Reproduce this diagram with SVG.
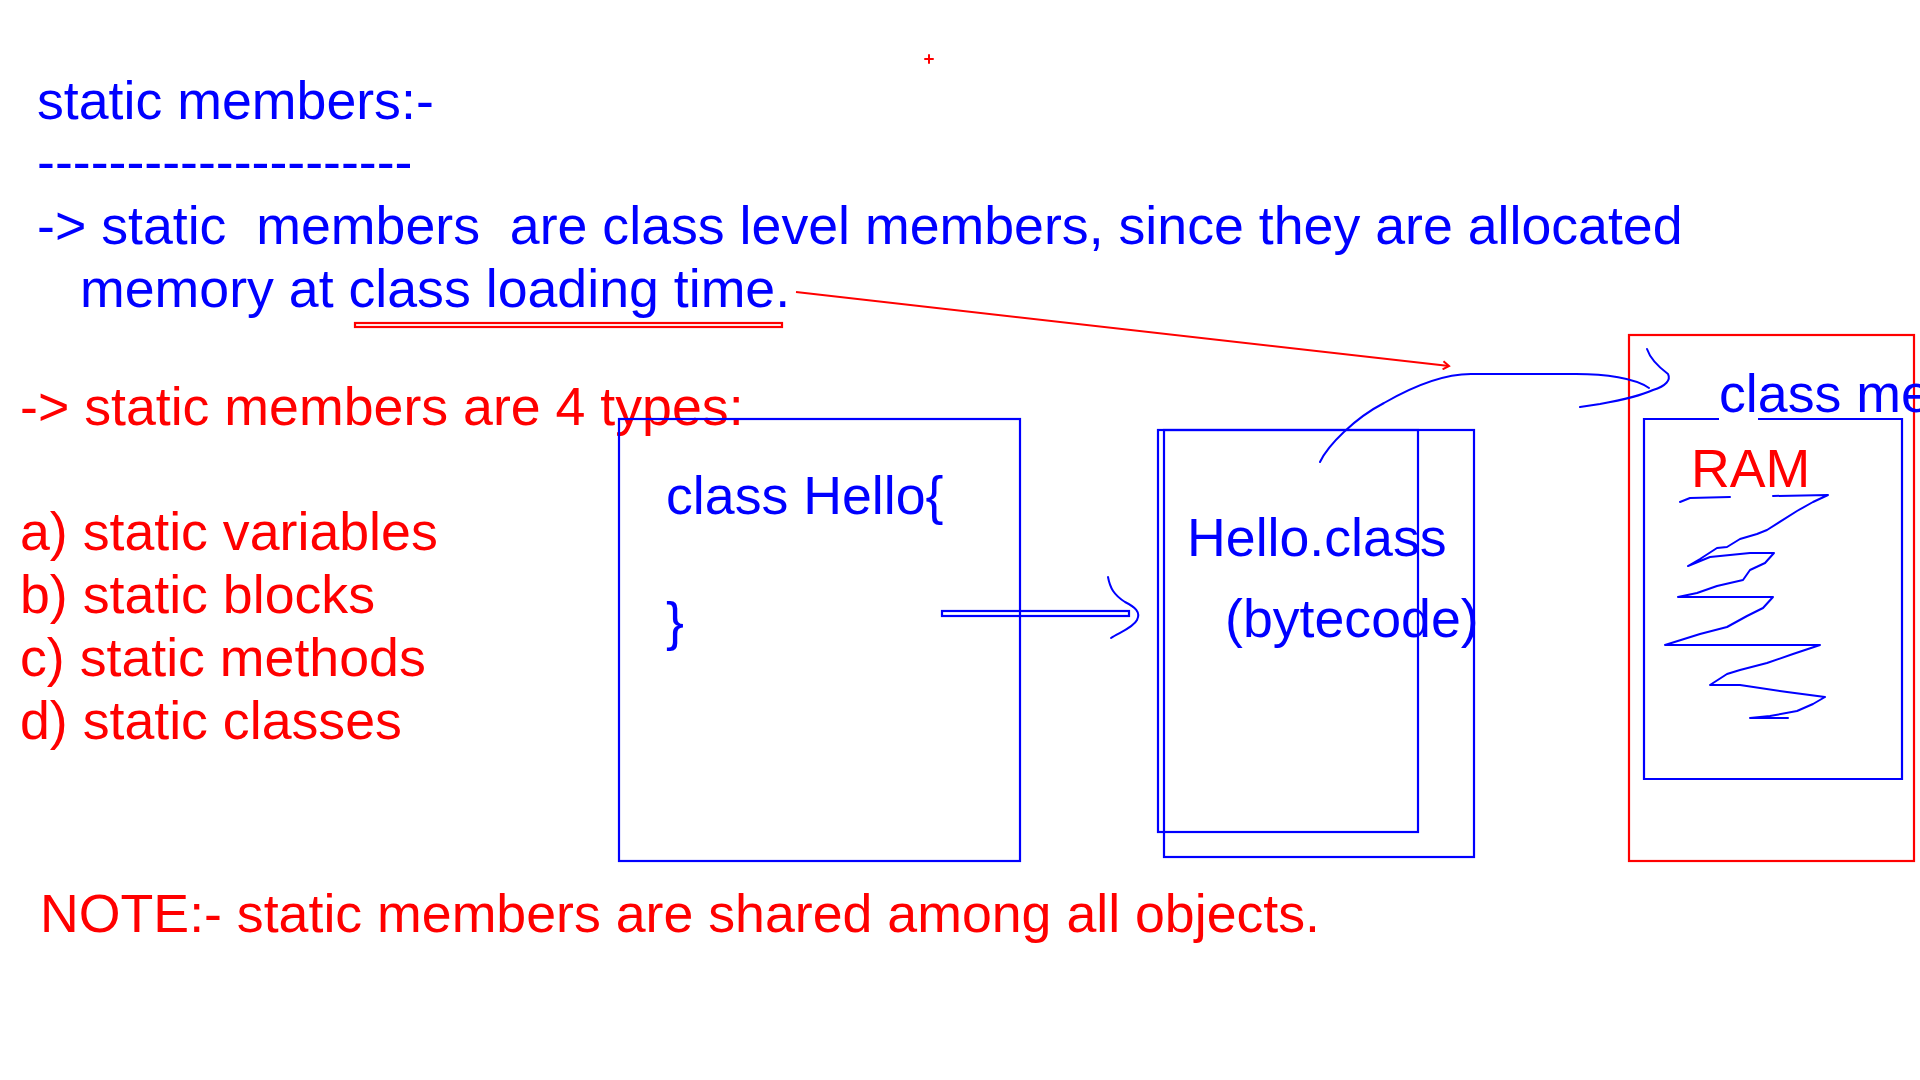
<svg xmlns="http://www.w3.org/2000/svg" width="1920" height="1080" viewBox="0 0 1920 1080">
  <style>
    text { font-family: "Liberation Sans", Arial, sans-serif; font-size: 53.7px; white-space: pre; }
    .blue { fill: #0000ff; }
    .red { fill: #ff0000; }
    .box { fill: none; stroke: #0000ff; stroke-width: 2.2; }
    .rbox { fill: none; stroke: #ff0000; stroke-width: 2.2; }
    .ink { fill: none; stroke: #0000ff; stroke-width: 2; stroke-linecap: round; stroke-linejoin: round; }
    .rink { fill: none; stroke: #ff0000; stroke-width: 2; stroke-linecap: round; stroke-linejoin: round; }
  </style>
  <defs>
    <marker id="tick" markerWidth="10" markerHeight="10" refX="8" refY="5" orient="auto" markerUnits="userSpaceOnUse">
      <path d="M2,1 L8,5 L2,9" fill="none" stroke="#ff0000" stroke-width="2"/>
    </marker>
  </defs>

  <rect width="1920" height="1080" fill="#ffffff"/>

  <!-- small pen mark -->
  <path class="rink" d="M925,59 H933 M929,55 V63" stroke-width="1.5"/>

  <!-- heading and intro -->
  <g id="heading">
    <text class="blue" x="37" y="119">static members:-</text>
    <text class="blue" x="37" y="180">---------------------</text>
  </g>
  <g id="intro">
    <text class="blue" x="37" y="244" xml:space="preserve">-&gt; static  members  are class level members, since they are allocated</text>
    <text class="blue" x="80" y="307">memory at class loading time.</text>
    <rect x="355" y="323" width="427" height="4" class="rbox" stroke-width="1.6"/>
  </g>

  <!-- list of kinds -->
  <g id="types">
    <text class="red" x="20" y="425">-&gt; static members are 4 types:</text>
    <text class="red" x="20" y="550">a) static variables</text>
    <text class="red" x="20" y="613">b) static blocks</text>
    <text class="red" x="20" y="676">c) static methods</text>
    <text class="red" x="20" y="739">d) static classes</text>
  </g>

  <g id="note">
    <text class="red" x="40" y="932">NOTE:- static members are shared among all objects.</text>
  </g>

  <!-- source file -->
  <g id="source">
    <rect x="619" y="419" width="401" height="442" class="box"/>
    <text class="blue" x="666" y="514">class Hello{</text>
    <text class="blue" x="666" y="640">}</text>
  </g>

  <!-- compiled file -->
  <g id="bytecode">
    <rect x="1158" y="430" width="260" height="402" class="box"/>
    <rect x="1164" y="430" width="310" height="427" class="box"/>
    <text class="blue" x="1187" y="556">Hello.class</text>
    <text class="blue" x="1225" y="637">(bytecode)</text>
  </g>

  <!-- memory area -->
  <g id="memory">
    <rect x="1629" y="335" width="285" height="526" class="rbox"/>
    <text class="blue" x="1719" y="412">class me</text>
    <path class="box" d="M1719,419 H1644 V779 H1902 V419 H1758"/>
    <text class="red" x="1691" y="487">RAM</text>
    <path class="ink" d="M1680,502 L1690,498 L1730,497 M1773,496 L1828,495 L1813,502 L1797,511 L1767,530 L1757,534 L1740,539 L1727,547 L1717,548 L1700,559 L1688,566 L1710,557 L1750,553 L1774,553 L1765,563 L1750,570 L1743,580 L1717,586 L1697,593 L1678,597 L1773,597 L1763,608 L1747,616 L1727,627 L1700,634 L1665,645 L1820,645 L1793,654 L1767,663 L1740,670 L1727,674 L1710,685 L1740,685 L1787,692 L1825,697 L1813,704 L1797,711 L1770,716 L1750,718 L1788,718" stroke-width="1.8"/>
  </g>

  <!-- connectors -->
  <g id="connectors">
    <line x1="796" y1="292" x2="1449" y2="366" stroke="#ff0000" stroke-width="2" marker-end="url(#tick)"/>
    <rect x="942" y="611" width="187" height="5" class="box" stroke-width="1.6"/>
    <path class="ink" d="M1108,577 C1110,588 1114,595 1125,602 C1135,607 1141,612 1137,620 C1133,628 1118,633 1111,638" stroke-width="1.6"/>
    <path class="ink" d="M1320,462 C1328,445 1355,418 1384,403 C1410,388 1440,374 1471,374 L1576,374 C1605,374 1635,378 1649,388" stroke-width="1.8"/>
    <path class="ink" d="M1647,349 C1650,358 1660,368 1668,374 C1671,380 1666,386 1653,390 C1640,396 1622,400 1600,404 L1580,407" stroke-width="1.8"/>
  </g>
</svg>
